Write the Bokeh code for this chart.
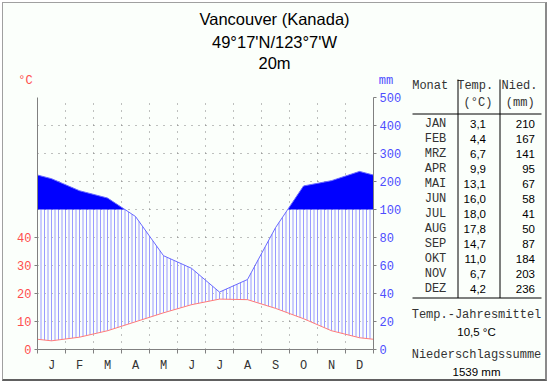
import numpy as np
from bokeh.plotting import figure
from bokeh.layouts import row, column
from bokeh.models import Range1d, LinearAxis, FixedTicker
from bokeh.embed import file_html
from bokeh.resources import INLINE
from bokeh.core.properties import value

# ---------------- data ----------------
title_lines = ["Vancouver (Kanada)", "49°17'N/123°7'W", "20m"]
month_letters = ["J", "F", "M", "A", "M", "J", "J", "A", "S", "O", "N", "D"]
month_names = ["JAN", "FEB", "MRZ", "APR", "MAI", "JUN", "JUL", "AUG", "SEP", "OKT", "NOV", "DEZ"]
temp = [3.1, 4.4, 6.7, 9.9, 13.1, 16.0, 18.0, 17.8, 14.7, 11.0, 6.7, 4.2]
precip = [210, 167, 141, 95, 67, 58, 41, 50, 87, 184, 203, 236]
temp_ticks = [0, 10, 20, 30, 40]
precip_ticks = [0, 20, 40, 60, 80, 100, 200, 300, 400, 500]
table_header = ["Monat", "Temp.", "Nied."]
table_units = ["(°C)", "(mm)"]
summary_labels = ["Temp.-Jahresmittel", "Niederschlagssumme"]
summary_values = ["10,5 °C", "1539 mm"]

BG = "#fbfffb"
RED = "#ff4d4d"
BLUE = "#4d4dff"
TXT = "#333333"
MONO = "Liberation Mono"
SANS = "Liberation Sans"


def to_units(p):
    # Walter-Lieth scale: 10 degC = 20 mm below 100 mm, 10 degC = 100 mm above
    return p / 2.0 if p <= 100 else 50.0 + (p - 100) / 10.0


xs = [0.0] + [i + 0.5 for i in range(12)] + [12.0]
t_edge = (temp[-1] + temp[0]) / 2.0
t_curve = [t_edge] + temp + [t_edge]
p_units = [to_units(v) for v in precip]
p_edge = (p_units[-1] + p_units[0]) / 2.0
p_curve = [p_edge] + p_units + [p_edge]


def plain_fig(w, h):
    f = figure(width=w, height=h, x_range=Range1d(0, w), y_range=Range1d(h, 0),
               output_backend="svg", toolbar_location=None, min_border=0,
               x_axis_type=None, y_axis_type=None, frame_align=False,
               background_fill_color=BG, border_fill_color=BG, outline_line_color=None)
    f.grid.visible = False
    return f


def put_text(f, x, y, t, font, size, color=TXT, align="center"):
    f.text(x=x, y=y, text=t, text_font=value(font), text_font_size=value(size),
           text_color=color, text_align=align, text_baseline="middle")


# ---------------- top band: title and unit labels ----------------
top = plain_fig(403, 86)
put_text(top, [271, 271, 271], [15.5, 38, 59.5], title_lines, SANS, "16.5px", "#000000")
put_text(top, [22], [77], ["°C"], MONO, "12px", RED)
put_text(top, [382.5], [77.5], ["mm"], MONO, "12px", BLUE)

# ---------------- climate chart ----------------
p = figure(width=403, height=290, x_range=Range1d(0, 12), y_range=Range1d(0, 90),
           output_backend="svg", toolbar_location=None, frame_align=False,
           min_border_left=34, min_border_right=33, min_border_top=8, min_border_bottom=30,
           background_fill_color=BG, border_fill_color=BG, outline_line_color=None)

p.xgrid.ticker = FixedTicker(ticks=list(range(1, 12)))
p.ygrid.ticker = FixedTicker(ticks=list(range(10, 91, 10)))
for g in (p.xgrid, p.ygrid):
    g.grid_line_color = "#808080"
    g.grid_line_dash = "1 6"
    g.grid_line_width = 1

xd = np.linspace(0, 12, 1201)
pd_ = np.interp(xd, xs, p_curve)

xh = np.arange(1, 96) / 8.0
th = np.interp(xh, xs, t_curve)
ph = np.minimum(np.interp(xh, xs, p_curve), 50.0)
mask = ph > th
p.segment(x0=xh[mask], y0=th[mask], x1=xh[mask], y1=ph[mask],
          line_color="#9a9aff", line_width=1)

p.varea(x=xd, y1=np.full_like(xd, 50.0), y2=np.maximum(pd_, 50.0), fill_color="#0000ff")

p.line(xs, p_curve, line_color="#6a6aff", line_width=1)
p.line(xs, t_curve, line_color="#ff7a7a", line_width=1)

xa = p.xaxis[0]
xa.ticker = FixedTicker(ticks=[i + 0.5 for i in range(12)], minor_ticks=list(range(13)))
xa.major_label_overrides = {i + 0.5: m for i, m in enumerate(month_letters)}
xa.major_tick_out = 0
xa.major_tick_in = 0
xa.minor_tick_out = 4
xa.minor_tick_in = 0
xa.minor_tick_line_color = "#808080"
xa.axis_line_color = "#808080"
xa.major_label_standoff = 5
xa.major_label_text_font = MONO
xa.major_label_text_font_size = "12px"
xa.major_label_text_color = TXT

ya = p.yaxis[0]
ya.ticker = FixedTicker(ticks=temp_ticks)
ya.axis_line_color = "#808080"
ya.major_tick_line_color = "#808080"
ya.major_tick_out = 3
ya.major_tick_in = 0
ya.minor_tick_line_color = None
ya.major_label_standoff = 3
ya.major_label_text_font = MONO
ya.major_label_text_font_size = "12px"
ya.major_label_text_color = RED

ra = LinearAxis()
ra.ticker = FixedTicker(ticks=[to_units(v) for v in precip_ticks])
ra.major_label_overrides = {to_units(v): str(v) for v in precip_ticks}
ra.axis_line_color = "#808080"
ra.major_tick_line_color = "#808080"
ra.major_tick_out = 3
ra.major_tick_in = 0
ra.minor_tick_line_color = None
ra.major_label_standoff = 3
ra.major_label_text_font = MONO
ra.major_label_text_font_size = "12px"
ra.major_label_text_color = BLUE
p.add_layout(ra, "right")

# ---------------- table ----------------
tb = plain_fig(139, 376)
put_text(tb, [23.7, 68.7, 113], [82, 82, 82], table_header, MONO, "12px")
put_text(tb, [71.5, 113.7], [99.5, 99.5], table_units, MONO, "12px")
rows_y = [120.5 + 15 * i for i in range(12)]
put_text(tb, [29] * 12, rows_y, month_names, MONO, "12px")
put_text(tb, [79.5] * 12, rows_y, [f"{v:.1f}".replace(".", ",") for v in temp], SANS, "11.5px", "#000000", "right")
put_text(tb, [128.5] * 12, rows_y, [str(v) for v in precip], SANS, "11.5px", "#000000", "right")
tb.segment(x0=[6, 6, 51.5, 93.5], y0=[110.5, 294.5, 76, 76],
           x1=[135, 135, 51.5, 93.5], y1=[110.5, 294.5, 294.5, 294.5],
           line_color="#000000", line_width=1)
put_text(tb, [70, 70], [311, 351.5], summary_labels, MONO, "12px")
put_text(tb, [70, 70], [328.5, 368], summary_values, SANS, "11.5px", "#000000")

layout = row(column(top, p, spacing=0), tb, spacing=0,
             styles={"margin-left": "2px", "margin-top": "2px",
                     "border-top": "1px solid #a0a0a0", "border-left": "1px solid #a0a0a0",
                     "border-right": "2px solid #8a8a8a", "border-bottom": "2px solid #606060",
                     "background-color": BG})

open("out.html", "w").write(file_html(layout, INLINE))
